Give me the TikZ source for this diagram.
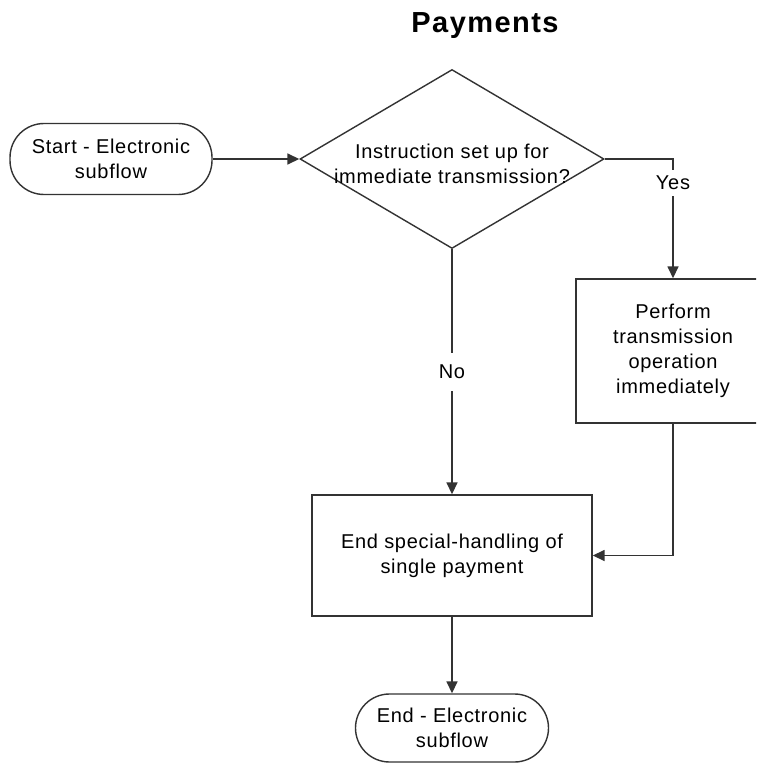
\documentclass[tikz,border=0pt]{standalone}
\usepackage{fontspec}
\setmainfont{Liberation Sans}[LetterSpace=3.5]
\newfontfamily\headfont{Liberation Sans}[LetterSpace=5]
\usetikzlibrary{shapes.geometric,arrows.meta}

\begin{document}
\begin{tikzpicture}[x=1pt,y=1pt,
  outline/.style={draw=black!80, line width=1.4pt, fill=white},
  body/.style={font=\fontsize{20}{25}\selectfont, align=center, text=black},
  terminal/.style={outline, body, rounded corners=34pt, inner sep=0pt},
  process/.style={outline, body, inner sep=0pt},
  decision/.style={outline, diamond, inner sep=0pt},
  flow/.style={draw=black!80, line width=1.6pt, -{Triangle[length=12pt,width=11pt]}},
  branch/.style={fill=white, body, inner xsep=2pt}
]
\clip (0,0) rectangle (756,-765);
\useasboundingbox (0,0) rectangle (756,-765);

% heading
\node[font=\headfont\bfseries\fontsize{29}{31}\selectfont] (title) at (485,-26) {Payments};

% shapes
\node[terminal, minimum width=202pt, minimum height=71pt] (start) at (111,-159)
  {Start - Electronic\\subflow};
\node[decision, minimum width=304pt, minimum height=179pt] (decide) at (452,-159) {};
\node[body, inner sep=0pt] (decidetext) at (452,-164)
  {Instruction set up for\\immediate transmission?};
\node[process, minimum width=194pt, minimum height=144pt] (perform) at (673,-351)
  {Perform\\transmission\\operation\\immediately};
\node[process, minimum width=280pt, minimum height=121pt] (endspecial) at (452,-555.5)
  {End special-handling of\\single payment};
\node[terminal, minimum width=193pt, minimum height=68pt] (finish) at (452,-728)
  {End - Electronic\\subflow};

% connectors
\draw[flow] (start) -- (decide);
\draw[flow] (decide.east) -| node[branch, pos=0.6, inner ysep=6pt] (yes) {Yes} (perform.north);
\draw[flow] (decide.south) -- node[branch, inner ysep=12pt] (no) {No} (endspecial.north);
\draw[flow] (perform.south) |- (endspecial.east);
\draw[flow] (endspecial.south) -- (finish.north);
\end{tikzpicture}
\end{document}
